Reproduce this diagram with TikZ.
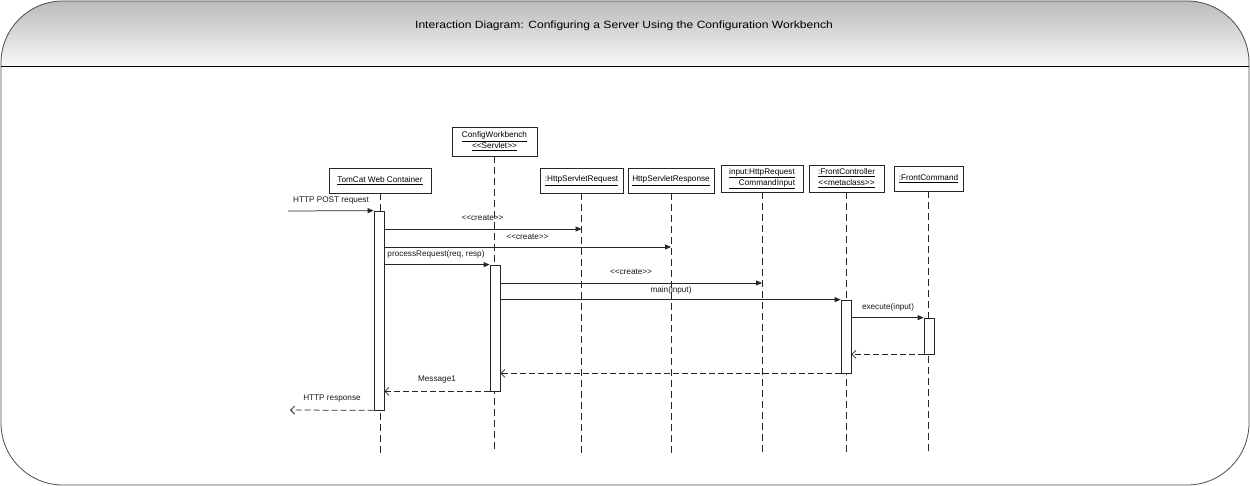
\documentclass[tikz,border=0pt]{standalone}
\usepackage{fontspec}
\setmainfont{Liberation Sans}
\usetikzlibrary{arrows.meta,calc}
\newcommand\ltlt{<\kern0pt<}
\newcommand\gtgt{>\kern0pt>}
\begin{document}
\begin{tikzpicture}[x=1pt,y=-1pt,
  obj/.style={draw=black!85,line width=0.9pt,fill=white,inner sep=0pt,align=center,font=\fontsize{8.2}{11}\selectfont},
  actbar/.style={draw=black!85,line width=0.75pt,fill=white,minimum width=10pt,inner sep=0pt},
  life/.style={draw=black!85,line width=0.75pt,dash pattern=on 7pt off 4pt},
  call/.style={draw=black!85,line width=0.75pt,-{Triangle[length=6pt,width=5pt]}},
  ret/.style={draw=black!85,line width=0.75pt,dash pattern=on 6pt off 3pt,-{Straight Barb[length=4pt,width=8pt]}},
  lbl/.style={font=\fontsize{8.2}{9.5}\selectfont,inner sep=0pt,text=black!90}
]
\useasboundingbox (0,0) rectangle (1250,486);
% frame and header
\begin{scope}
  \clip[rounded corners=62pt] (1,1) rectangle (1249,485);
  \shade[top color=black!27,bottom color=black!3] (0,0) rectangle (1250,66);
\end{scope}
\draw[draw=black!70,line width=0.8pt,rounded corners=62pt] (1,1) rectangle (1249,485);
\draw[black,line width=0.9pt] (1,66) -- (1249,66);
\node[font=\fontsize{10.5}{12}\selectfont,inner sep=0pt] (title) at (624,26) {\scalebox{1.15}[1]{Interaction Diagram: Configuring a Server Using the Configuration Workbench}};

% lifeline heads
\node[obj,minimum width=102pt,minimum height=25pt] (tom) at (380,180.5) {\underline{TomCat Web Container}};
\node[obj,minimum width=85pt,minimum height=29pt] (cfg) at (494.5,141.5) {\underline{ConfigWorkbench}\\\underline{\ltlt Servlet\gtgt}};
\node[obj,minimum width=83pt,minimum height=25pt] (req) at (581.5,180.5) {\underline{:HttpServletRequest}};
\node[obj,minimum width=86pt,minimum height=25pt] (resp) at (671,180.5) {\underline{HttpServletResponse}};
\node[obj,minimum width=82pt,minimum height=27pt] (inp) at (762,178.5) {\underline{input:HttpRequest}\\\underline{\hspace{10pt}CommandInput}};
\node[obj,minimum width=75pt,minimum height=27pt] (fc) at (846.5,178.5) {\underline{:FrontController}\\\underline{\ltlt metaclass\gtgt}};
\node[obj,minimum width=69pt,minimum height=25pt] (fcm) at (928.5,178.5) {\underline{:FrontCommand}};

% lifelines
\coordinate (lend) at (0,453);
\foreach \n in {tom,cfg,req,resp,inp,fc,fcm}{
  \draw[life] (\n.south) -- (\n.south |- lend);
}

% activation bars
\node[actbar,minimum height=199pt] (tomA) at (379,310.5) {};
\node[actbar,minimum height=126pt] (cfgA) at (495,328) {};
\node[actbar,minimum height=73pt] (fcA) at (846,336.5) {};
\node[actbar,minimum height=36pt] (fcmA) at (929,336) {};

% message levels
\coordinate (ypost) at (288,211);
\coordinate (y1) at (0,229);
\coordinate (y2) at (0,247);
\coordinate (y4) at (0,283);
\coordinate (yback) at (290,410);

% messages
\draw[call] (ypost) -- (tomA.north west);
\draw[call] (tomA.east |- y1) -- (req.south |- y1);
\draw[call] (tomA.east |- y2) -- (resp.south |- y2);
\draw[call] (tomA.east |- cfgA.north) -- (cfgA.north west);
\draw[call] (cfgA.east |- y4) -- (inp.south |- y4);
\draw[call] (cfgA.east |- fcA.north) -- (fcA.north west);
\draw[call] (fcA.east |- fcmA.north) -- (fcmA.north west);
\draw[ret] (fcmA.south west) -- (fcA.east |- fcmA.south);
\draw[ret] (fcA.south west) -- (cfgA.east |- fcA.south);
\draw[ret] (cfgA.south west) -- (tomA.east |- cfgA.south);
\draw[ret] (tomA.south west) -- (yback);

% labels
\node[lbl] (l0) at (331,200) {HTTP POST request};
\node[lbl] (l1) at (482.5,218) {\ltlt create\gtgt};
\node[lbl] (l2) at (527.5,236.5) {\ltlt create\gtgt};
\node[lbl] (l3) at (436,254) {processRequest(req, resp)};
\node[lbl] (l4) at (631,272) {\ltlt create\gtgt};
\node[lbl] (l5) at (671,290) {main(input)};
\node[lbl] (l6) at (888,307.5) {execute(input)};
\node[lbl] (l7) at (437,380) {Message1};
\node[lbl] (l8) at (332,398.5) {HTTP response};
\end{tikzpicture}
\end{document}
